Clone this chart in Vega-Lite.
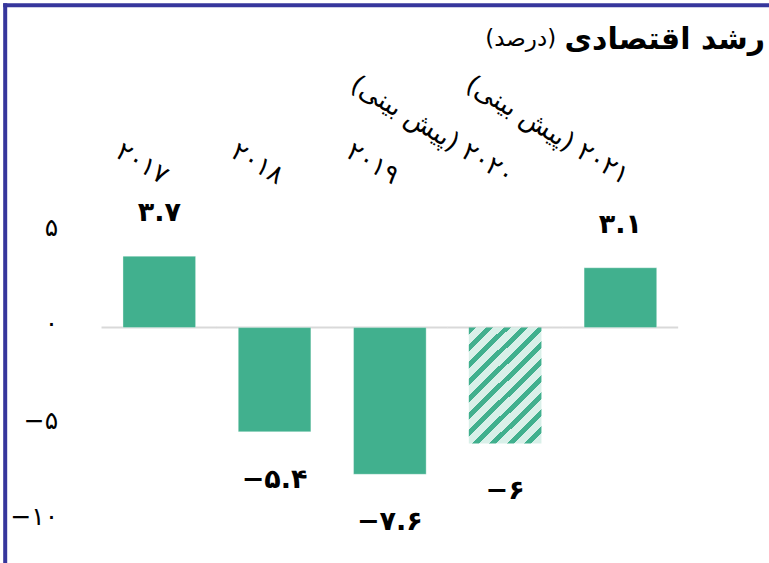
{
  "$schema": "https://vega.github.io/schema/vega-lite/v6.json",
  "width": 764.3,
  "height": 558.3,
  "autosize": {"type": "none"},
  "padding": {"left": 4.7, "top": 4.7, "right": 0, "bottom": 0},
  "background": "#ffffff",
  "config": {"view": {"stroke": null}, "font": "DejaVu Sans"},
  "title": {
    "text": "رشد اقتصادی",
    "anchor": "end",
    "frame": "group",
    "orient": "top",
    "offset": 0,
    "dy": 65,
    "dx": -4,
    "baseline": "middle",
    "fontSize": 30,
    "fontWeight": "bold",
    "color": "#000000",
    "font": "DejaVu Sans"
  },
  "data": {
    "values": [
      {"year": "۲۰۱۷", "label": "۲۰۱۷", "value": 3.7, "text": "۳.۷", "pattern": "solid"},
      {"year": "۲۰۱۸", "label": "۲۰۱۸", "value": -5.4, "text": "−۵.۴", "pattern": "solid"},
      {"year": "۲۰۱۹", "label": "۲۰۱۹", "value": -7.6, "text": "−۷.۶", "pattern": "solid"},
      {"year": "۲۰۲۰", "label": "\u202b۲۰۲۰ (پیش بینی)\u202c", "value": -6, "text": "−۶", "pattern": "hatched"},
      {"year": "۲۰۲۱", "label": "\u202b۲۰۲۱ (پیش بینی)\u202c", "value": 3.1, "text": "۳.۱", "pattern": "solid"}
    ]
  },
  "encoding": {
    "x": {
      "field": "label",
      "type": "nominal",
      "sort": null,
      "scale": {"paddingInner": 0.37, "paddingOuter": 1.0745, "align": 0.513, "round": false},
      "axis": {
        "orient": "top",
        "domain": true,
        "domainColor": "#36369c",
        "domainWidth": 4,
        "domainCap": "square",
        "ticks": false,
        "grid": false,
        "labelAngle": 31,
        "labelAlign": "right",
        "labelBaseline": "bottom",
        "labelPadding": -184,
        "labelFontSize": 26,
        "labelColor": "#000000",
        "labelOverlap": false,
        "labelBound": false,
        "labelFlush": false,
        "labelLimit": 0,
        "title": "(درصد)",
        "titleX": 551,
        "titleY": 34,
        "titleAlign": "right",
        "titleBaseline": "middle",
        "titleAngle": 0,
        "titleFontSize": 23,
        "titleFontWeight": "normal",
        "titleColor": "#000000"
      }
    },
    "y": {
      "field": "value",
      "type": "quantitative",
      "scale": {"domain": [-12.197, 16.73], "nice": false, "zero": false},
      "axis": {
        "orient": "left",
        "values": [5, 0, -5, -10],
        "domain": true,
        "domainColor": "#36369c",
        "domainWidth": 4,
        "domainCap": "square",
        "ticks": false,
        "grid": false,
        "labelPadding": -53,
        "labelOffset": -4,
        "labelAlign": "right",
        "labelBaseline": "middle",
        "labelFontSize": 25,
        "labelColor": "#000000",
        "labelExpr": "datum.value == 5 ? '۵' : datum.value == 0 ? '۰' : datum.value == -5 ? '−۵' : '−۱۰'",
        "title": null
      }
    }
  },
  "layer": [
    {
      "mark": {"type": "tick", "orient": "horizontal", "color": "#d9d9d9", "size": 115.5, "thickness": 2, "opacity": 1},
      "encoding": {"y": {"datum": 0}}
    },
    {
      "transform": [{"filter": "datum.pattern === 'solid'"}],
      "mark": {"type": "bar", "color": "#41b08e", "stroke": "#ffffff", "strokeWidth": 1, "strokeOpacity": 0.35}
    },
    {
      "transform": [{"filter": "datum.pattern === 'hatched'"}],
      "mark": {
        "type": "bar",
        "fill": {
          "gradient": "linear",
          "x1": 0, "y1": 0, "x2": 0.7191, "y2": 1.1724,
          "stops": [
            {"offset": 0, "color": "#41b08e"}, {"offset": 0.0364, "color": "#41b08e"}, {"offset": 0.0364, "color": "#d9f0e9"}, {"offset": 0.0909, "color": "#d9f0e9"},
            {"offset": 0.0909, "color": "#41b08e"}, {"offset": 0.1273, "color": "#41b08e"}, {"offset": 0.1273, "color": "#d9f0e9"}, {"offset": 0.1818, "color": "#d9f0e9"},
            {"offset": 0.1818, "color": "#41b08e"}, {"offset": 0.2182, "color": "#41b08e"}, {"offset": 0.2182, "color": "#d9f0e9"}, {"offset": 0.2727, "color": "#d9f0e9"},
            {"offset": 0.2727, "color": "#41b08e"}, {"offset": 0.3091, "color": "#41b08e"}, {"offset": 0.3091, "color": "#d9f0e9"}, {"offset": 0.3636, "color": "#d9f0e9"},
            {"offset": 0.3636, "color": "#41b08e"}, {"offset": 0.4, "color": "#41b08e"}, {"offset": 0.4, "color": "#d9f0e9"}, {"offset": 0.4545, "color": "#d9f0e9"},
            {"offset": 0.4545, "color": "#41b08e"}, {"offset": 0.4909, "color": "#41b08e"}, {"offset": 0.4909, "color": "#d9f0e9"}, {"offset": 0.5455, "color": "#d9f0e9"},
            {"offset": 0.5455, "color": "#41b08e"}, {"offset": 0.5818, "color": "#41b08e"}, {"offset": 0.5818, "color": "#d9f0e9"}, {"offset": 0.6364, "color": "#d9f0e9"},
            {"offset": 0.6364, "color": "#41b08e"}, {"offset": 0.6727, "color": "#41b08e"}, {"offset": 0.6727, "color": "#d9f0e9"}, {"offset": 0.7273, "color": "#d9f0e9"},
            {"offset": 0.7273, "color": "#41b08e"}, {"offset": 0.7636, "color": "#41b08e"}, {"offset": 0.7636, "color": "#d9f0e9"}, {"offset": 0.8182, "color": "#d9f0e9"},
            {"offset": 0.8182, "color": "#41b08e"}, {"offset": 0.8545, "color": "#41b08e"}, {"offset": 0.8545, "color": "#d9f0e9"}, {"offset": 0.9091, "color": "#d9f0e9"},
            {"offset": 0.9091, "color": "#41b08e"}, {"offset": 0.9455, "color": "#41b08e"}, {"offset": 0.9455, "color": "#d9f0e9"}, {"offset": 1, "color": "#d9f0e9"}
          ]
        }
      }
    },
    {
      "transform": [{"filter": "datum.value >= 0"}],
      "mark": {"type": "text", "dy": -43, "baseline": "middle", "align": "center", "fontSize": 27, "fontWeight": "bold", "color": "#000000"},
      "encoding": {"text": {"field": "text"}}
    },
    {
      "transform": [{"filter": "datum.value < 0"}],
      "mark": {"type": "text", "dy": 48, "baseline": "middle", "align": "center", "fontSize": 27, "fontWeight": "bold", "color": "#000000"},
      "encoding": {"text": {"field": "text"}}
    }
  ]
}
